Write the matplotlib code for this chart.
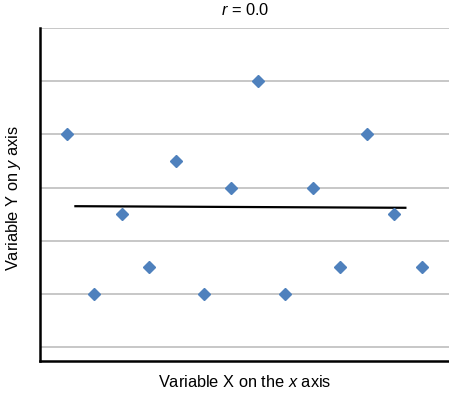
import matplotlib
matplotlib.use("Agg")
import matplotlib.pyplot as plt

plt.rcParams['font.family'] = ['Liberation Sans', 'DejaVu Sans']
plt.rcParams['mathtext.fontset'] = 'custom'
plt.rcParams['mathtext.rm'] = 'Liberation Sans'
plt.rcParams['mathtext.it'] = 'Liberation Sans:italic'

# data (gridline spacing = 1 unit)
x_vals = [1, 2, 3, 4, 5, 6, 7, 8, 9, 10, 11, 12, 13, 14]
y_vals = [5, 2, 3.5, 2.5, 4.5, 2, 4, 6, 2, 4, 2.5, 5, 3.5, 2.5]
trend_x = [1.3, 13.4]
trend_y = [3.65, 3.62]
grid_levels = [1, 2, 3, 4, 5, 6, 7]

fig = plt.figure(figsize=(4.49, 3.97), dpi=100)
ax = fig.add_axes([0.089, 0.0907, 0.911, 0.8388])

for g in grid_levels:
    ax.axhline(g, color='#BEBEBE', lw=1.2, zorder=0)

ax.plot(trend_x, trend_y, color='black', lw=1.6, zorder=2)
ax.plot(x_vals, y_vals, ls='none', marker='D', ms=6.5, color='#4F81BD',
        mec='#4F81BD', zorder=3)

ax.set_xlim(0, 15)
ax.set_ylim(0.74, 7)
ax.set_xticks([])
ax.set_yticks([])
for s in ['top', 'right']:
    ax.spines[s].set_visible(False)
for s in ['left', 'bottom']:
    ax.spines[s].set_linewidth(1.8)
    ax.spines[s].set_color('black')

fig.text(0.545, 0.974, '$r$ = 0.0', ha='center', va='center', fontsize=11.8)
fig.text(0.546, 0.037, 'Variable X on the $x$ axis', ha='center', va='center', fontsize=11.8)
fig.text(0.029, 0.501, 'Variable Y on $y$ axis', ha='center', va='center',
         rotation=90, fontsize=11.8)

fig.savefig('out.png', dpi=100)
